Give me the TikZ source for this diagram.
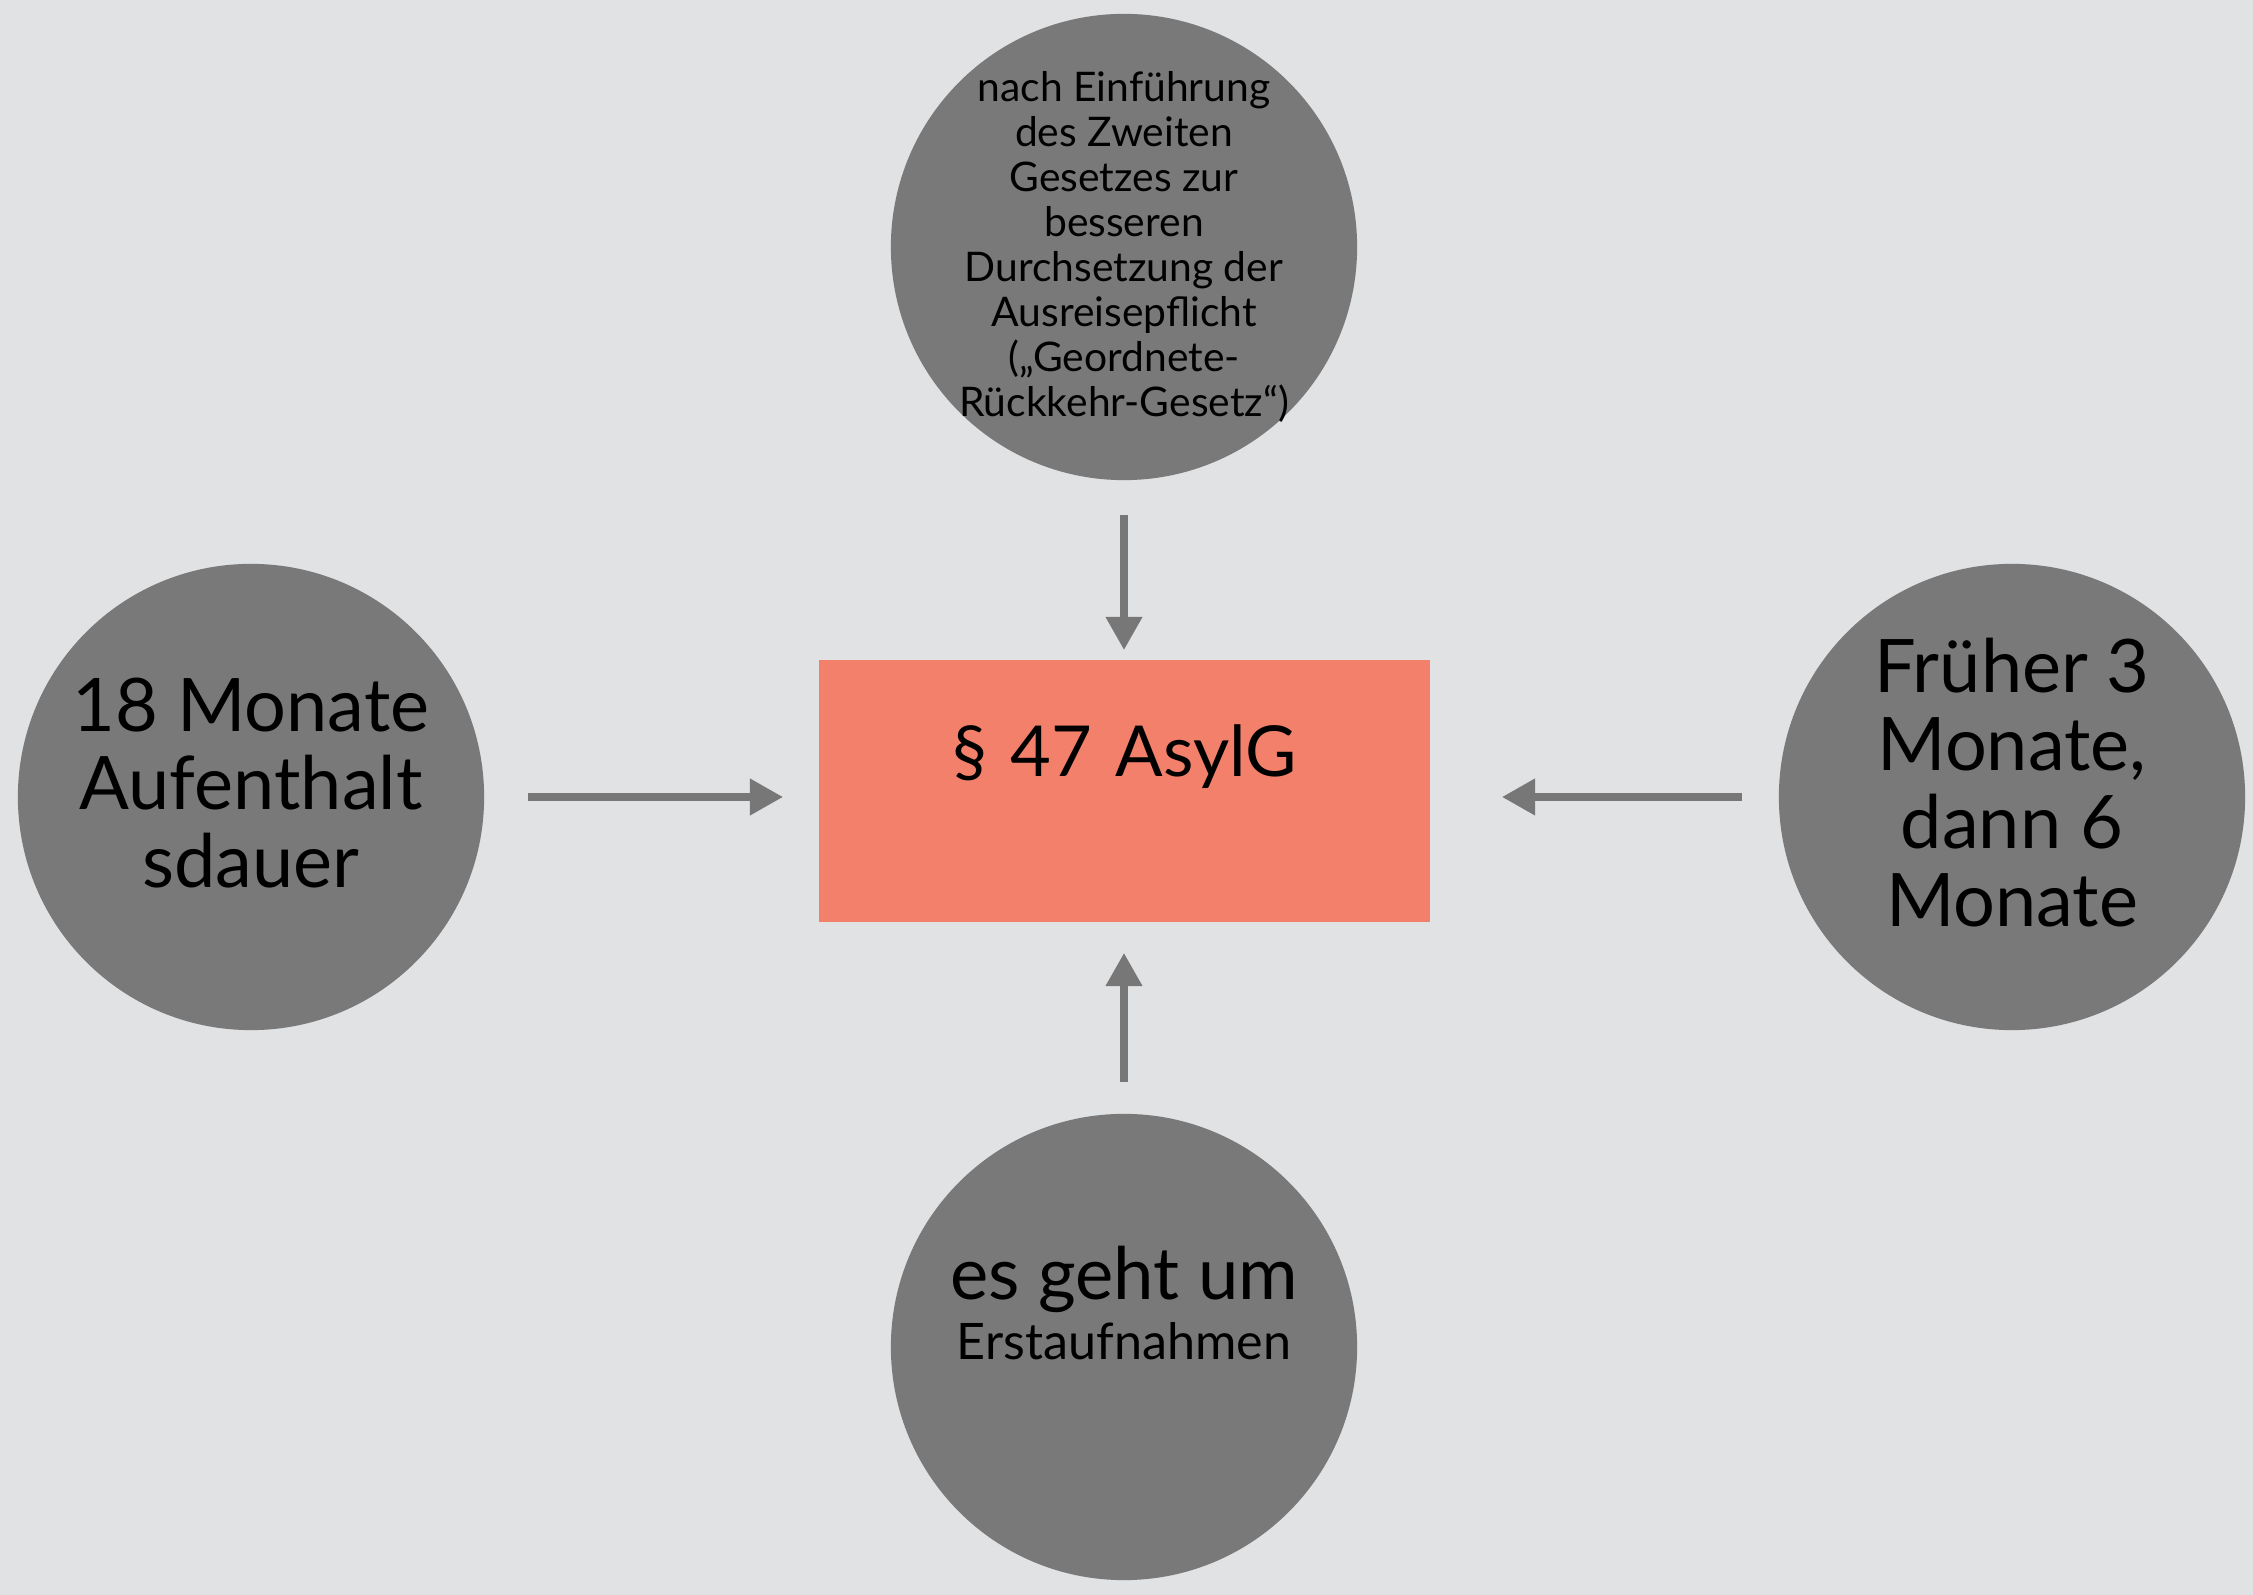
\documentclass[tikz,border=0pt]{standalone}
\usepackage{fontspec}
\setmainfont{Lato}
\usetikzlibrary{arrows.meta}
\definecolor{bgcol}{HTML}{E1E2E4}
\definecolor{circcol}{HTML}{797979}
\definecolor{lawcol}{HTML}{F2806A}
\definecolor{arrcol}{HTML}{777777}
\tikzset{
  bubble/.style={circle, fill=circcol, draw=none, minimum size=4.66cm, inner sep=0pt},
  lawbox/.style={rectangle, fill=lawcol, draw=none, inner sep=0pt, text width=6.11cm, align=center,
                 text height=1.17cm, text depth=1.45cm, font=\fontsize{20}{24}\selectfont},
  bigtxt/.style={align=center, inner sep=0pt, font=\fontsize{21}{22.2}\selectfont},
  smalltxt/.style={align=center, inner sep=0pt, font=\fontsize{11.6}{12.8}\selectfont},
  flow/.style={draw=arrcol, line width=2pt, -{Triangle[width=0.35cm,length=0.33cm]}}
}
\begin{document}
\begin{tikzpicture}[x=0.01cm,y=-0.01cm]
\useasboundingbox (0,0) rectangle (2253,1595);
\fill[bgcol] (0,0) rectangle (2253,1595);
% circles
\node[bubble] (top) at (1124,247) {};
\node[bubble] (left) at (251,797) {};
\node[bubble] (right) at (2012,797) {};
\node[bubble] (bottom) at (1124,1347) {};
% centre box
\node[lawbox] (law) at (1124.5,791) {§ 47 AsylG};
% texts
\node[smalltxt] (toptext) at (1124,247) {nach Einführung\\des Zweiten\\Gesetzes zur\\besseren\\Durchsetzung der\\Ausreisepflicht\\(„Geordnete-\\Rückkehr-Gesetz“)};
\node[bigtxt] (lefttext) at (251,783) {18 Monate\\Aufenthalt\\sdauer};
\node[bigtxt] (righttext) at (2012,783) {Früher 3\\Monate,\\dann 6\\Monate};
\node[align=center, inner sep=0pt, font=\fontsize{14.3}{16.8}\selectfont] (bottomtext) at (1124,1303) {{\fontsize{20.6}{16.8}\selectfont es geht um}\\{\fontsize{14.3}{16.8}\selectfont Erstaufnahmen}};
% connectors
\coordinate (ta) at (1124,515);
\coordinate (la) at (528,797);
\coordinate (ra) at (1742,797);
\coordinate (ba) at (1124,1082);
\draw[flow] (ta) -- (1124,650);
\draw[flow] (la) -- (783,797);
\draw[flow] (ra) -- (1502,797);
\draw[flow] (ba) -- (1124,953);
\end{tikzpicture}
\end{document}
